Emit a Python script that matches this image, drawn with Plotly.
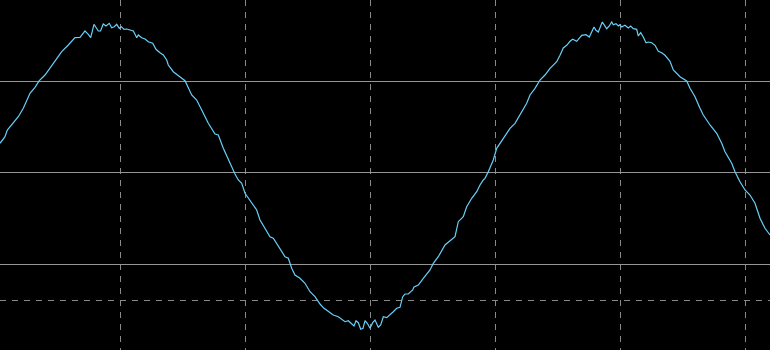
import plotly.graph_objects as go

# sample positions (time axis) and signal level
t = [0, 5, 7.3, 13.3, 18.3, 23.3, 26.7, 30, 35, 39.3, 45, 50, 55, 58.3, 61.7, 68.3,
     70, 75, 80, 85, 88.3, 90.7, 94, 98.3, 100.5, 103.3, 106, 109.3, 111.7, 114.3,
     116.7, 119.3, 121.5, 124, 126.7, 130, 133.3, 135, 136.7, 138.3, 141.7, 145,
     148.3, 152.7, 156, 160, 163.3, 166.7, 168.3, 173.3, 180, 185, 191.7, 196.7,
     201.7, 208.3, 215, 218.3, 223.3, 230, 235, 238.3, 241.7, 245, 250, 256.7, 260,
     266.7, 270, 273.3, 280, 285, 288.3, 291.7, 295, 300, 305, 310, 315, 320, 324,
     328.3, 333.3, 338.3, 341.7, 345, 348.3, 351.7, 354, 356, 358.3, 360.7, 363,
     365, 367.3, 370, 372.7, 375, 378.3, 380.7, 383.3, 386.7, 390, 393.3, 396.7,
     400, 402.7, 405, 408.3, 412.7, 414, 418.3, 423.3, 430, 433.3, 438.3, 445, 450,
     455, 458.3, 463.3, 466.7, 471.7, 476.7, 480, 483.3, 485, 488.3, 491.7, 493.3,
     496.7, 500, 505, 510, 515, 520, 523.3, 526.7, 530, 535, 540, 545, 550, 556.7,
     560, 563.3, 566.7, 570, 572.7, 576.7, 581.7, 586, 589.3, 591.7, 594, 596,
     598.3, 602.3, 605, 606.7, 609.3, 611.7, 613.3, 616, 618.3, 620, 621.7, 625,
     628.3, 630.7, 633.3, 636.7, 638.3, 640.7, 643.3, 646, 648.3, 651.7, 655,
     658.3, 661.7, 665, 670, 673.3, 680, 686.7, 690, 695, 700, 703.3, 710, 716.7,
     721.7, 725, 731.7, 735, 740, 745, 750, 755, 760, 765, 770]

level = [143.3, 136.7, 130, 123.3, 116.7, 108.3, 100, 93.3, 87.3, 80.7, 75, 68.3,
         61.7, 56.7, 51.7, 45, 43.3, 37.7, 37.3, 31, 34.3, 37.7, 24.3, 31, 31, 24,
         26, 23.3, 27.7, 26.7, 24.3, 28.3, 26.7, 29.3, 29, 29.7, 31, 34.3, 37.7, 35,
         37.7, 39, 41.7, 43.3, 49.3, 52.7, 55, 60, 65, 71.7, 77.3, 80.7, 95, 100,
         110, 123.3, 134, 135, 148.3, 163.3, 174, 180, 183.3, 193.3, 200, 210, 220,
         231.7, 236.7, 238.3, 248.3, 256.7, 258.3, 268.3, 275, 278.3, 283.3, 291.7,
         296.7, 304, 308.3, 311.7, 315, 316.7, 319.3, 321.7, 320.7, 323.3, 326,
         320.7, 322.7, 329.3, 328.3, 320.7, 323.3, 328.3, 322.7, 320, 327.3, 325,
         316.7, 317.7, 315, 311.7, 308.3, 307.3, 296.7, 294, 294, 290, 287, 285,
         278.3, 270, 263.3, 256.7, 245, 241, 236.7, 221.7, 216.7, 206.7, 198.3,
         191.7, 185, 180, 178.3, 171.7, 163.3, 160, 148.3, 143.3, 135, 128.3, 123.3,
         115, 108.3, 103.3, 95, 88.3, 80, 75, 68.3, 61.7, 55.3, 48, 45.3, 41.3, 39.3,
         41.3, 35.3, 34.7, 37, 32, 27, 30.3, 32, 22, 26, 28.7, 26, 22, 24.7, 23.7,
         26, 24.7, 27, 25.3, 28, 26, 28.7, 29.3, 36, 32.7, 37, 42.7, 42, 42.7, 45.3,
         51.3, 52.7, 55.3, 61.3, 70, 76.7, 81, 88.3, 96.7, 108.3, 115, 125, 133.3,
         143.3, 151.7, 163.3, 171.7, 181.7, 190, 195, 203.3, 218.3, 228.3, 235]

x_grid = [120.5, 245.5, 370.5, 495.5, 620.5, 745.5]
y_grid = [81, 172.5, 264]
y_marker = [300]

fig = go.Figure()
fig.add_trace(go.Scatter(x=t, y=level, mode="lines",
                         line=dict(color="#68d0fa", width=1.2),
                         hoverinfo="skip", showlegend=False))

fig.update_layout(
    width=770, height=350,
    margin=dict(l=0, r=0, t=0, b=0),
    paper_bgcolor="#000000", plot_bgcolor="#000000",
    showlegend=False,
    xaxis=dict(range=[0, 770], tickmode="array", tickvals=x_grid,
               showticklabels=False, ticks="", zeroline=False,
               showgrid=True, gridcolor="#8a8a8a", gridwidth=1,
               griddash="6px,6px", showline=False, fixedrange=True),
    yaxis=dict(range=[350, 0], tickmode="array", tickvals=y_grid,
               showticklabels=False, ticks="", zeroline=False,
               showgrid=True, gridcolor="#959595", gridwidth=1,
               showline=False, fixedrange=True,
               minor=dict(tickmode="array", tickvals=y_marker, showgrid=True,
                          gridcolor="#8a8a8a", gridwidth=1,
                          griddash="6px,6px", ticks="")),
)

fig.write_html("out.html", config={"displayModeBar": False})
